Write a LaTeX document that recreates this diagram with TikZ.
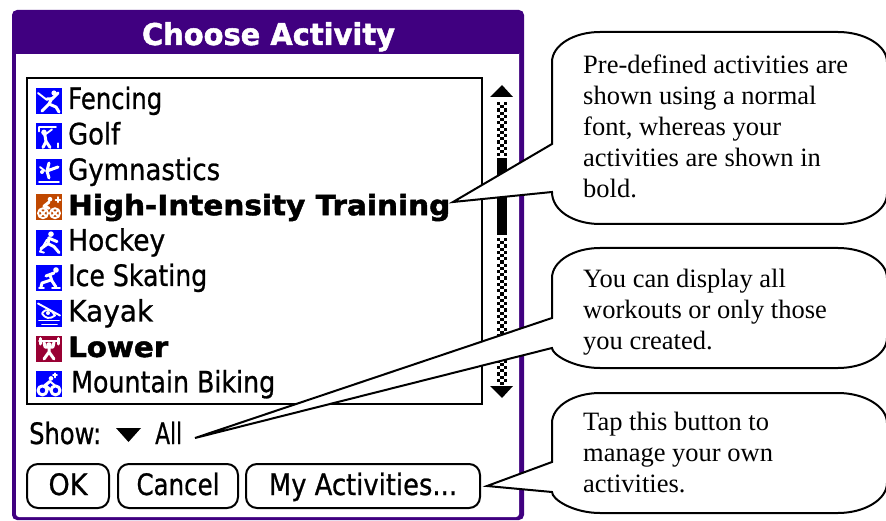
\documentclass[tikz,border=0pt]{standalone}
\usepackage{graphicx}
\usepackage{fontspec}
\usetikzlibrary{calc}
\setmainfont{Liberation Serif}
\newfontfamily\palm[FakeBold=0.8]{DejaVu Sans}
\newfontfamily\palmheavy[FakeBold=1.6]{DejaVu Sans Bold}
\definecolor{palmpurple}{RGB}{64,0,128}
\definecolor{iconblue}{RGB}{0,0,255}
\definecolor{iconorange}{RGB}{192,72,0}
\definecolor{iconred}{RGB}{153,0,51}
\newcommand\wtext[2]{\resizebox{#1pt}{\height}{#2}}
\tikzset{
  row/.style={anchor=base west,inner sep=0pt,font=\palm\fontsize{29.5}{32}\selectfont},
  boldrow/.style={anchor=base west,inner sep=0pt,font=\palmheavy\fontsize{28}{32}\selectfont},
  palmbtn/.style={draw=black,line width=2pt,rounded corners=11pt,fill=white,inner sep=0pt,text height=31pt,text depth=13pt,font=\palm\fontsize{29.5}{32}\selectfont},
  calloutshape/.style={draw=black,line width=2pt,fill=white,line join=miter},
  callouttext/.style={anchor=north west,inner sep=0pt,align=left,font=\fontsize{26.5}{30.8}\selectfont},
  ic/.style={white,line width=3pt,line cap=round,line join=round},
  icthin/.style={white,line width=1.9pt,line cap=round,line join=round},
}
% #1 top, #2 bottom, #3 tip name, #4 upper base y, #5 lower base y
\newcommand\bubble[5]{%
  \draw[calloutshape] (552,#1+30) .. controls (552,#1+13.4) and (573.5,#1) .. (600,#1)
    -- (838,#1) .. controls (864.5,#1) and (887,#1+13.4) .. (887,#1+30)
    -- (887,#2-30) .. controls (887,#2-13.4) and (864.5,#2) .. (838,#2)
    -- (600,#2) .. controls (573.5,#2) and (552,#2-13.4) .. (552,#5)
    -- (#3) -- (552,#4) -- cycle;}
% #1 top y, #2 colour, #3 drawing in local 0..26
\newcommand\iconat[3]{%
  \begin{scope}[shift={(36,#1)}]
    \fill[#2] (0,0) rectangle (26,26);
    #3
  \end{scope}}
\begin{document}
\begin{tikzpicture}[x=1pt,y=-1pt]
\useasboundingbox (0,0) rectangle (886,521);
\fill[white] (0,0) rectangle (886,521);
% frame
\fill[palmpurple,rounded corners=5pt] (12,10) rectangle (524,520);
\fill[white,rounded corners=3pt] (16,50) rectangle (519,517);
\fill[palmpurple] (16,40) rectangle (519,54.5);
\node[anchor=base,inner sep=0pt,text=white,font=\palmheavy\fontsize{30}{32}\selectfont] (title) at (268.5,45) {\wtext{253}{Choose Activity}};
% list
\node[draw=black,line width=2pt,fill=white,minimum width=455pt,minimum height=326pt,inner sep=0pt] (list) at (254.5,241) {};
% rows
\node[row] (r1) at (68,109) {\wtext{94}{Fencing}};
\node[row] (r2) at (68,144.4) {\wtext{52}{Golf}};
\node[row] (r3) at (68,180) {\wtext{152}{Gymnastics}};
\node[boldrow] (r4) at (68,215.2) {\wtext{382}{High-Intensity Training}};
\node[row] (r5) at (68,250.6) {\wtext{97}{Hockey}};
\node[row] (r6) at (68,286) {\wtext{139}{Ice Skating}};
\node[row] (r7) at (68,321.5) {\wtext{85}{Kayak}};
\node[boldrow] (r8) at (68,357) {\wtext{100}{Lower}};
\node[row] (r9) at (71,392.4) {\wtext{204}{Mountain Biking}};
% icons
\iconat{88}{iconblue}{%
  \fill[white] (18,5) circle (2.6);
  \draw[icthin] (2,5) -- (11,12);
  \draw[ic] (11,11) -- (16,11) -- (22,5);
  \draw[ic] (16,10) -- (13,16) -- (6,23);
  \draw[ic] (13,16) -- (20,19) -- (23,24);}
\iconat{123.4}{iconblue}{%
  \draw[icthin] (3,4) -- (20,4);
  \draw[icthin] (3,4) -- (3,8);
  \fill[white] (8,9) circle (2.8);
  \draw[ic] (9,12) -- (10,18) -- (7,24);
  \draw[ic] (10,18) -- (14,24);
  \draw[icthin] (8,12) -- (16,6);
  \draw[icthin] (22,20) -- (22,24);}
\iconat{159}{iconblue}{%
  \draw[icthin] (3,23) -- (23,23);
  \draw[ic] (13,4) -- (11,12) -- (22,8);
  \draw[ic] (11,12) -- (13,19);
  \fill[white] (6,13) circle (2);
  \draw[icthin] (4,8) -- (9,12);}
\iconat{194.2}{iconorange}{%
  \draw[icthin] (7,19) circle (5);
  \draw[icthin] (19,19) circle (5);
  \draw[icthin] (4,16) -- (10,22) (10,16) -- (4,22);
  \draw[icthin] (16,16) -- (22,22) (22,16) -- (16,22);
  \fill[white] (14,5) circle (2.3);
  \draw[ic] (13,8) -- (8,12) -- (13,14);
  \draw[icthin] (22,3) -- (22,8) (19.5,5.5) -- (24.5,5.5);}
\iconat{229.6}{iconblue}{%
  \fill[white] (15,4.5) circle (2.8);
  \draw[ic] (13,8) -- (12,14) -- (5,19);
  \draw[ic] (12,14) -- (18,17) -- (23,23);
  \draw[ic] (14,9) -- (21,12);
  \draw[icthin] (11,10) -- (4,22) -- (8,23);}
\iconat{265}{iconblue}{%
  \fill[white] (20,5) circle (2.8);
  \draw[ic] (18,8) -- (10,11);
  \draw[ic] (14,10) -- (16,16) -- (20,22);
  \draw[ic] (15,15) -- (6,18) -- (5,22);
  \draw[icthin] (3,23) -- (8,23) (16,23) -- (24,23);}
\iconat{300.5}{iconblue}{%
  \draw[icthin] (2,3) -- (24,15);
  \draw[icthin] (6,13) .. controls (10,7) and (16,9) .. (19,15) .. controls (14,19) and (9,18) .. (6,13);
  \fill[white] (12,12.5) circle (2);
  \draw[icthin] (3,20) -- (23,20) (6,24) -- (21,24);}
\iconat{336}{iconred}{%
  \draw[icthin] (3,5) -- (23,5);
  \draw[ic] (4,2.5) -- (4,8) (22,2.5) -- (22,8);
  \fill[white] (13,9) circle (2.8);
  \draw[ic] (8,6) -- (9,11) -- (17,11) -- (18,6);
  \draw[ic] (13,12) -- (13,16) -- (8,23) (13,16) -- (18,23);}
\iconat{371.4}{iconblue}{%
  \draw[ic] (6.5,19) circle (4.5);
  \draw[ic] (19.5,19) circle (4.5);
  \fill[white] (15,7) circle (2.3);
  \draw[ic] (14,10) -- (9,14) -- (14,18);
  \draw[icthin] (14,10) -- (19,14);
  \draw[icthin] (19,2) -- (19,6) (17,4) -- (21,4);}
% scrollbar
\coordinate (sbtop) at (502,85);
\coordinate (sbbot) at (502,398);
\fill[black] (sbtop) -- (490,97) -- (513,97) -- cycle;
\fill[black] (sbbot) -- (490,386) -- (513,386) -- cycle;
\foreach \r in {0,...,16}{
  \foreach \c in {0,1,2}{
    \pgfmathparse{int(mod(\r+\c,2))}
    \ifnum\pgfmathresult=0 \fill[black] ({497+\c*3.4},{102+\r*3.2}) rectangle +(3.2,3.2);\fi
  }}
\foreach \r in {0,...,45}{
  \foreach \c in {0,1,2}{
    \pgfmathparse{int(mod(\r+\c,2))}
    \ifnum\pgfmathresult=0 \fill[black] ({497+\c*3.4},{238+\r*3.2}) rectangle +(3.2,3.2);\fi
  }}
\fill[black] (497,158) rectangle (507,235);
% show row
\node[row] (show) at (29,444) {\wtext{72}{Show:}};
\fill[black] (116,428) -- (141,428) -- (128.5,442) -- cycle;
\node[row] (all) at (155,444) {\wtext{27}{All}};
% buttons
\node[palmbtn,minimum width=82pt] (ok) at (68,486) {\wtext{39}{OK}};
\node[palmbtn,minimum width=120pt] (cancel) at (178,486) {\wtext{83}{Cancel}};
\node[palmbtn,minimum width=234pt] (myact) at (363,486) {\wtext{188}{My Activities...}};
% callouts
\coordinate (tipA) at (453,202);
\coordinate (tipB) at (195,438);
\coordinate (tipC) at ($(myact.east)+(6,0)$);
\bubble{32}{224}{tipA}{144}{192}
\bubble{248}{368}{tipB}{318}{348}
\bubble{393}{513}{tipC}{462}{492}
\node[callouttext] (ta) at (583,55) {Pre-defined activities are\\shown using a normal\\font, whereas your\\activities are shown in\\bold.};
\node[callouttext] (tb) at (583,269) {You can display all\\workouts or only those\\you created.};
\node[callouttext] (tc) at (583,412) {Tap this button to\\manage your own\\activities.};
\end{tikzpicture}
\end{document}
